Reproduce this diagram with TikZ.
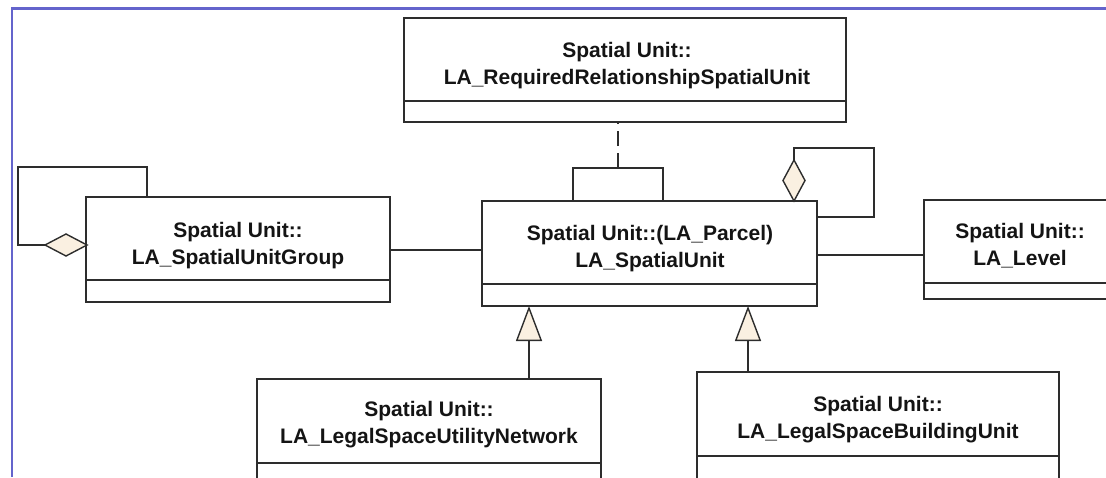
\documentclass[tikz,border=0pt]{standalone}
\usepackage{fontspec}
\setmainfont{Liberation Sans}
\usetikzlibrary{shapes.geometric,arrows.meta}
\definecolor{linegray}{RGB}{45,45,45}
\definecolor{txt}{RGB}{20,20,20}
\definecolor{beige}{RGB}{250,240,225}
\definecolor{frameblue}{RGB}{100,100,204}
\begin{document}
\begin{tikzpicture}[x=1pt,y=-1pt,
  comp/.style={draw=linegray, line width=1.4pt, rectangle, inner sep=0pt, outer sep=0pt, anchor=north west, fill=white},
  title/.style={text=txt, font=\bfseries\fontsize{21}{27}\selectfont, align=center, inner sep=0pt},
  conn/.style={draw=linegray, line width=1.4pt},
  agg/.style={shape=diamond, draw=linegray, line width=1.4pt, fill=beige, inner sep=0pt, outer sep=0pt},
  gen/.style={conn, -{Triangle[length=35pt, width=26pt, fill=beige]}},
]
\useasboundingbox (0,0) rectangle (1106,477);
\clip (0,0) rectangle (1106,477);

% frame
\draw[frameblue, line width=2.6pt] (12,477) -- (12,8.5) -- (1106,8.5);

% classes
\node[comp, minimum width=442pt, minimum height=83pt] (rr) at (404,18) {};
\node[comp, minimum width=442pt, minimum height=21pt] (rr2) at (rr.south west) {};
\node[title] (rr-t) at (627,66) {Spatial Unit::\\LA\_RequiredRelationshipSpatialUnit};

\node[comp, minimum width=335pt, minimum height=83pt] (su) at (482,201) {};
\node[comp, minimum width=335pt, minimum height=22pt] (su2) at (su.south west) {};
\node[title] (su-t) at (650,248.5) {Spatial Unit::(LA\_Parcel)\\LA\_SpatialUnit};

\node[comp, minimum width=304pt, minimum height=83pt] (sg) at (86,197) {};
\node[comp, minimum width=304pt, minimum height=22pt] (sg2) at (sg.south west) {};
\node[title] (sg-t) at (238,246) {Spatial Unit::\\LA\_SpatialUnitGroup};

\node[comp, minimum width=192pt, minimum height=83pt] (lv) at (924,200) {};
\node[comp, minimum width=192pt, minimum height=16pt] (lv2) at (lv.south west) {};
\node[title] (lv-t) at (1020,246) {Spatial Unit::\\LA\_Level};

\node[comp, minimum width=344pt, minimum height=84pt] (un) at (257,379) {};
\node[comp, minimum width=344pt, minimum height=30pt] (un2) at (un.south west) {};
\node[title] (un-t) at (429,424.5) {Spatial Unit::\\LA\_LegalSpaceUtilityNetwork};

\node[comp, minimum width=362pt, minimum height=84pt] (bu) at (697,372) {};
\node[comp, minimum width=362pt, minimum height=30pt] (bu2) at (bu.south west) {};
\node[title] (bu-t) at (878,419.5) {Spatial Unit::\\LA\_LegalSpaceBuildingUnit};

% association class link (self association of LA_SpatialUnit)
\coordinate (lp1) at (573,168);
\coordinate (lp2) at (663,168);
\coordinate (fork) at (618,168);
\draw[conn] (lp1 |- su.north) -- (lp1) -- (lp2) -- (lp2 |- su.north);
\draw[conn, dash pattern=on 15pt off 7pt] (fork) -- (fork |- rr2.south);

% self aggregation on LA_SpatialUnit
\node[agg, minimum width=22pt, minimum height=41pt] (dm1) at (794,180.5) {};
\coordinate (rl1) at (874,148);
\coordinate (rl2) at (874,217);
\draw[conn] (dm1.north) |- (rl1) -- (rl2) -- (rl2 -| su.east);

% self aggregation on LA_SpatialUnitGroup
\node[agg, minimum width=42pt, minimum height=22pt] (dm2) at (66,245) {};
\coordinate (ll1) at (18,167);
\coordinate (ll2) at (147,167);
\draw[conn] (dm2.west) -| (ll1) -- (ll2) -- (ll2 |- sg.north);

% associations
\coordinate (gc) at (430,250);
\draw[conn] (gc -| sg.east) -- (gc -| su.west);
\coordinate (lc) at (870,255);
\draw[conn] (lc -| su.east) -- (lc -| lv.west);

% generalisations
\coordinate (g1) at (529,340);
\coordinate (g2) at (748,340);
\draw[gen] (g1 |- un.north) -- (g1 |- su2.south);
\draw[gen] (g2 |- bu.north) -- (g2 |- su2.south);
\end{tikzpicture}
\end{document}
